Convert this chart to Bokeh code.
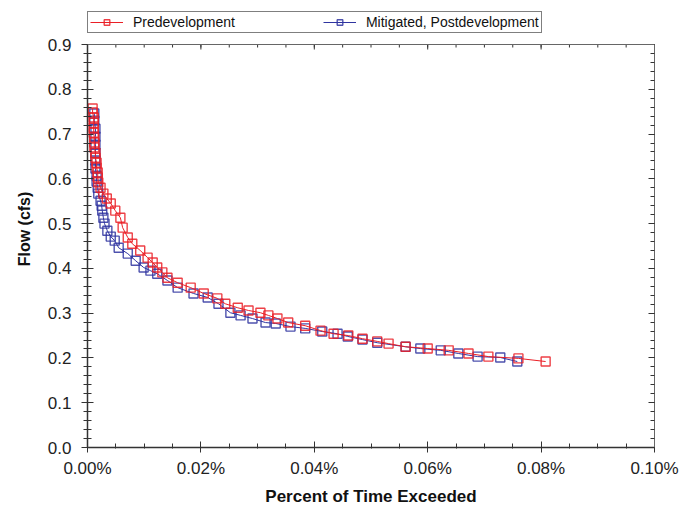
import math
from bokeh.plotting import figure
from bokeh.models import (ColumnDataSource, LinearAxis, FixedTicker, PrintfTickFormatter,
                          Legend, LegendItem, Range1d, Span)
from bokeh.embed import file_html
from bokeh.resources import INLINE

# ---- data (x in percent of time exceeded, y in cfs) ----
pre_x = [0.0009, 0.0009, 0.0011, 0.0011, 0.0011, 0.0011, 0.0012, 0.0012, 0.0012, 0.0014,
         0.0014, 0.0016, 0.0016, 0.0018, 0.0018, 0.0019, 0.0023, 0.0028, 0.0034, 0.0041,
         0.0049, 0.0058, 0.0062, 0.0071, 0.0079, 0.0093, 0.0106, 0.0115, 0.0123, 0.0132,
         0.0141, 0.0159, 0.0182, 0.0205, 0.0229, 0.0243, 0.0265, 0.0284, 0.0305, 0.0319,
         0.0335, 0.0354, 0.0384, 0.0411, 0.0434, 0.0460, 0.0485, 0.0511, 0.0531, 0.0561,
         0.0600, 0.0637, 0.0672, 0.0707, 0.0760, 0.0808]
pre_y = [0.757, 0.748, 0.737, 0.725, 0.714, 0.703, 0.692, 0.681, 0.670, 0.658,
         0.647, 0.636, 0.625, 0.614, 0.603, 0.592, 0.580, 0.567, 0.556, 0.545,
         0.529, 0.513, 0.491, 0.469, 0.455, 0.440, 0.424, 0.413, 0.402, 0.391,
         0.379, 0.368, 0.357, 0.344, 0.333, 0.321, 0.312, 0.306, 0.301, 0.295,
         0.288, 0.279, 0.272, 0.261, 0.254, 0.250, 0.243, 0.237, 0.232, 0.225,
         0.221, 0.217, 0.210, 0.203, 0.199, 0.192]

post_x = [0.0012, 0.0012, 0.0014, 0.0014, 0.0014, 0.0014, 0.0014, 0.0014, 0.0016, 0.0016,
          0.0018, 0.0019, 0.0023, 0.0025, 0.0026, 0.0028, 0.0030, 0.0035, 0.0041, 0.0048,
          0.0055, 0.0071, 0.0085, 0.0099, 0.0111, 0.0123, 0.0141, 0.0159, 0.0187, 0.0212,
          0.0231, 0.0252, 0.0270, 0.0291, 0.0314, 0.0332, 0.0358, 0.0384, 0.0414, 0.0441,
          0.0459, 0.0485, 0.0511, 0.0561, 0.0587, 0.0623, 0.0654, 0.0688, 0.0728, 0.0758]
post_y = [0.746, 0.730, 0.712, 0.694, 0.676, 0.658, 0.641, 0.623, 0.607, 0.594,
          0.580, 0.567, 0.551, 0.540, 0.529, 0.513, 0.500, 0.484, 0.471, 0.462,
          0.446, 0.433, 0.417, 0.402, 0.395, 0.388, 0.373, 0.357, 0.344, 0.335,
          0.321, 0.301, 0.295, 0.288, 0.279, 0.277, 0.270, 0.266, 0.259, 0.254,
          0.248, 0.241, 0.234, 0.225, 0.221, 0.217, 0.210, 0.203, 0.201, 0.192]

x_ticks = [0.0, 0.02, 0.04, 0.06, 0.08, 0.10]
y_ticks = [0.0, 0.1, 0.2, 0.3, 0.4, 0.5, 0.6, 0.7, 0.8, 0.9]
x_minor = [i * 0.005 for i in range(21)]
y_minor = [i * 0.02 for i in range(46)]
Y_TOP = 0.9

RED = "#ea1f26"
BLUE = "#2f34a0"
FONT = "Liberation Sans"
AX = "#333333"

# layout (pixels): axes box from y=44 (0.9) to y=447 (0.0); the frame is taller so
# the legend above the axes box lies inside it
W, H = 690, 514
B_LEFT, B_RIGHT, B_TOP, B_BOTTOM = 87, 36, 10, 67
AXES_TOP_PX = 44
frame_h = H - B_TOP - B_BOTTOM
axes_h = H - AXES_TOP_PX - B_BOTTOM
y_end = Y_TOP * frame_h / axes_h

p = figure(width=W, height=H, output_backend="svg", toolbar_location=None,
           x_range=Range1d(0, 0.1), y_range=Range1d(0, y_end),
           min_border_left=B_LEFT, min_border_right=B_RIGHT,
           min_border_top=B_TOP, min_border_bottom=B_BOTTOM)
p.xgrid.visible = False
p.ygrid.visible = False
p.outline_line_color = None
p.background_fill_color = "white"
p.border_fill_color = "white"

post_src = ColumnDataSource(dict(x=post_x, y=post_y))
pre_src = ColumnDataSource(dict(x=pre_x, y=pre_y))

bl = p.line("x", "y", source=post_src, line_color=BLUE, line_width=1)
bs = p.scatter("x", "y", source=post_src, marker="square", size=9, fill_color=None,
               line_color=BLUE, line_width=1.4, line_alpha=0.85)
rl = p.line("x", "y", source=pre_src, line_color=RED, line_width=1)
rs = p.scatter("x", "y", source=pre_src, marker="square", size=9, fill_color=None,
               line_color=RED, line_width=1.4, line_alpha=0.85)

# top edge of the axes box with inward ticks
p.add_layout(Span(location=Y_TOP, dimension="width", line_color="#666666", line_width=1))
top_major = ColumnDataSource(dict(x=x_ticks, y=[Y_TOP] * len(x_ticks)))
top_minor = ColumnDataSource(dict(x=x_minor, y=[Y_TOP] * len(x_minor)))
p.ray("x", "y", source=top_minor, length=3, length_units="screen", angle=-math.pi / 2,
      line_color=AX, line_width=1)
p.ray("x", "y", source=top_major, length=5, length_units="screen", angle=-math.pi / 2,
      line_color=AX, line_width=1)

# bottom axis
xa = p.xaxis[0]
xa.ticker = FixedTicker(ticks=x_ticks, minor_ticks=x_minor)
xa.formatter = PrintfTickFormatter(format="%.2f%%")
xa.axis_label = "Percent of Time Exceeded"
xa.axis_label_text_font = FONT
xa.axis_label_text_font_style = "bold"
xa.axis_label_text_font_size = "17px"
xa.axis_label_text_color = "#111111"
xa.axis_label_standoff = 6
xa.major_label_text_font = FONT
xa.major_label_text_font_size = "17px"
xa.major_label_text_color = "#222222"
xa.major_label_standoff = 6
xa.major_tick_in = 6
xa.major_tick_out = 5
xa.minor_tick_in = 4
xa.minor_tick_out = 1
xa.axis_line_color = AX
xa.major_tick_line_color = AX
xa.minor_tick_line_color = AX
xa.axis_line_width = 1.5

# left axis
ya = p.yaxis[0]
ya.bounds = (0, Y_TOP)
ya.ticker = FixedTicker(ticks=y_ticks, minor_ticks=y_minor)
ya.formatter = PrintfTickFormatter(format="%.1f")
ya.axis_label = "Flow (cfs)"
ya.axis_label_text_font = FONT
ya.axis_label_text_font_style = "bold"
ya.axis_label_text_font_size = "16px"
ya.axis_label_text_color = "#111111"
ya.axis_label_standoff = 12
ya.major_label_text_font = FONT
ya.major_label_text_font_size = "17px"
ya.major_label_text_color = "#222222"
ya.major_label_standoff = 10
ya.major_tick_in = 6
ya.major_tick_out = 6
ya.minor_tick_in = 4
ya.minor_tick_out = 4
ya.axis_line_color = AX
ya.major_tick_line_color = AX
ya.minor_tick_line_color = AX
ya.axis_line_width = 1.5

# right axis (ticks only)
ra = LinearAxis(ticker=FixedTicker(ticks=y_ticks, minor_ticks=y_minor), bounds=(0, Y_TOP),
                major_label_text_font_size="0px", major_label_standoff=0,
                major_tick_in=6, major_tick_out=0, minor_tick_in=4, minor_tick_out=0,
                axis_line_color="#666666", major_tick_line_color=AX, minor_tick_line_color=AX)
p.add_layout(ra, "right")

legend = Legend(items=[LegendItem(label="Predevelopment", renderers=[rl, rs]),
                       LegendItem(label="Mitigated, Postdevelopment", renderers=[bl, bs])],
                orientation="horizontal", location=(0, axes_h + 11),
                label_text_font=FONT, label_text_font_size="14px", label_text_color="#111111",
                glyph_width=33, glyph_height=14, label_height=14, label_standoff=10,
                spacing=88, padding=2, margin=0,
                border_line_color="black", border_line_width=1,
                background_fill_color="white", background_fill_alpha=1.0)
p.add_layout(legend, "center")

open("out.html", "w").write(file_html(p, INLINE))
